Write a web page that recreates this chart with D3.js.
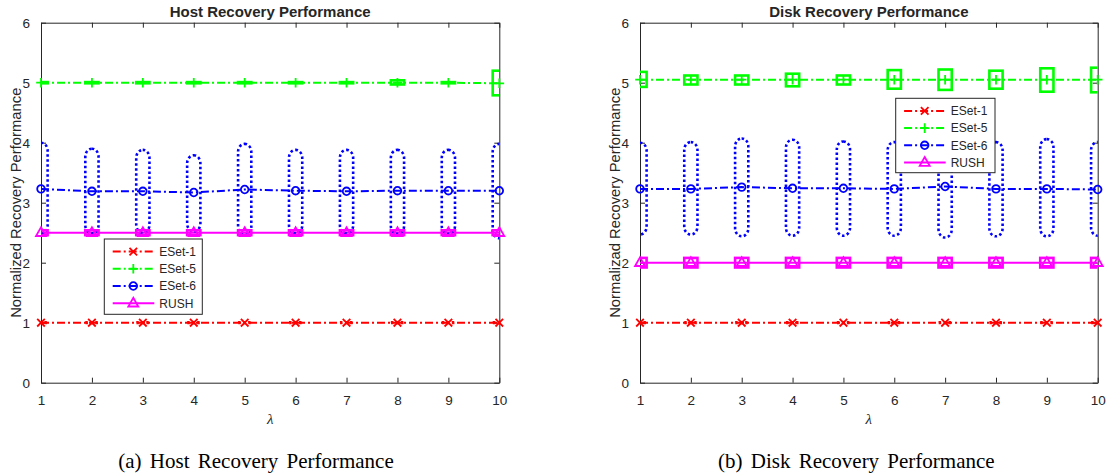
<!DOCTYPE html>
<html>
<head>
<meta charset="utf-8">
<script src="https://cdn.jsdelivr.net/npm/d3@7"></script>
<style>
body { margin: 0; background: #fff; }
svg text { font-family: "Liberation Sans", Arial, sans-serif; fill: #262626; }
</style>
</head>
<body>
<svg id="chart" width="1109" height="474"></svg>
<script>
var lambdas = [1, 2, 3, 4, 5, 6, 7, 8, 9, 10];
var yTicks = [0, 1, 2, 3, 4, 5, 6];
var seriesNames = ["ESet-1", "ESet-5", "ESet-6", "RUSH"];

// (a) host recovery
var hostESet1   = [1, 1, 1, 1, 1, 1, 1, 1, 1, 1];
var hostESet1Lo = [0.99, 0.99, 0.99, 0.99, 0.99, 0.99, 0.99, 0.99, 0.99, 0.99];
var hostESet1Hi = [1.01, 1.01, 1.01, 1.01, 1.01, 1.01, 1.01, 1.01, 1.01, 1.01];
var hostESet5   = [5, 5, 5, 5, 5, 5, 5, 5, 5, 4.99];
var hostESet5Lo = [4.99, 4.99, 4.99, 4.99, 4.99, 4.99, 4.99, 4.97, 4.99, 4.79];
var hostESet5Hi = [5.01, 5.01, 5.01, 5.01, 5.01, 5.01, 5.01, 5.04, 5.01, 5.2];
var hostESet6   = [3.23, 3.19, 3.19, 3.17, 3.22, 3.2, 3.19, 3.2, 3.2, 3.2];
var hostESet6Lo = [2.48, 2.49, 2.5, 2.52, 2.46, 2.49, 2.49, 2.48, 2.48, 2.41];
var hostESet6Hi = [4.0, 3.9, 3.88, 3.79, 3.98, 3.88, 3.88, 3.88, 3.88, 3.98];
var hostRush    = [2.5, 2.5, 2.5, 2.5, 2.5, 2.5, 2.5, 2.5, 2.5, 2.5];
var hostRushLo  = [2.46, 2.46, 2.46, 2.46, 2.46, 2.46, 2.46, 2.46, 2.46, 2.46];
var hostRushHi  = [2.54, 2.54, 2.54, 2.54, 2.54, 2.54, 2.54, 2.54, 2.54, 2.54];

// (b) disk recovery
var diskESet1   = [1, 1, 1, 1, 1, 1, 1, 1, 1, 1];
var diskESet1Lo = [0.99, 0.99, 0.99, 0.99, 0.99, 0.99, 0.99, 0.99, 0.99, 0.99];
var diskESet1Hi = [1.01, 1.01, 1.01, 1.01, 1.01, 1.01, 1.01, 1.01, 1.01, 1.01];
var diskESet5   = [5.05, 5.05, 5.05, 5.05, 5.05, 5.05, 5.05, 5.05, 5.05, 5.05];
var diskESet5Lo = [4.93, 4.97, 4.97, 4.94, 4.97, 4.9, 4.88, 4.9, 4.85, 4.84];
var diskESet5Hi = [5.18, 5.12, 5.12, 5.15, 5.12, 5.21, 5.22, 5.2, 5.24, 5.25];
var diskESet6   = [3.23, 3.23, 3.26, 3.24, 3.24, 3.23, 3.27, 3.23, 3.23, 3.22];
var diskESet6Lo = [2.47, 2.47, 2.44, 2.45, 2.45, 2.45, 2.42, 2.44, 2.44, 2.45];
var diskESet6Hi = [4.0, 4.01, 4.07, 4.05, 4.02, 4.01, 4.06, 4.01, 4.06, 4.01];
var diskRush    = [2, 2, 2, 2, 2, 2, 2, 2, 2, 2];
var diskRushLo  = [1.92, 1.92, 1.92, 1.92, 1.92, 1.92, 1.92, 1.92, 1.92, 1.92];
var diskRushHi  = [2.08, 2.08, 2.08, 2.08, 2.08, 2.08, 2.08, 2.08, 2.08, 2.08];

var styles = {
  "ESet-1": {color: "#ff0000", dash: "8,3,2,3", marker: "x", boxDash: "2.5,2.5", round: false, boxWidth: 2},
  "ESet-5": {color: "#00ff00", dash: "8,3,2,3", marker: "+", boxDash: null, round: false, boxWidth: 2.6},
  "ESet-6": {color: "#0000ff", dash: "8,3,2,3", marker: "o", boxDash: "2.5,2.5", round: true, boxWidth: 2.6},
  "RUSH":   {color: "#ff00ff", dash: null, marker: "^", boxDash: null, round: false, boxWidth: 2.6}
};

var serif = "'Liberation Serif', 'Times New Roman', serif";

function marker_path(m){
  if (m == "x") return "M-3.8,-3.8L3.8,3.8M-3.8,3.8L3.8,-3.8";
  if (m == "+") return "M-4.8,0L4.8,0M0,-4.8L0,4.8";
  if (m == "o") return "M3.8,0A3.8,3.8 0 1,1 -3.8,0A3.8,3.8 0 1,1 3.8,0Z";
  return "M0,-5.5L5,3.3L-5,3.3Z";
}

var svg = d3.select("#chart");
svg.append("rect").attr("width", 1109).attr("height", 474).attr("fill", "#fff");

function create_panel(opts){
  var x = d3.scaleLinear().domain([1, 10]).range([opts.left, opts.right]);
  var y = d3.scaleLinear().domain([0, 6]).range([382.7, 22.7]);
  var g = svg.append("g");

  var clipId = "clip-" + opts.id;
  svg.append("clipPath").attr("id", clipId)
    .append("rect")
    .attr("x", opts.left).attr("y", 22.7)
    .attr("width", opts.right - opts.left).attr("height", 360);

  // axes, ticks inside on all four sides
  g.append("g")
    .attr("transform", "translate(0,382.7)")
    .call(d3.axisBottom(x).tickValues(lambdas).tickFormat(d3.format("d")).tickSizeInner(-5).tickSizeOuter(0).tickPadding(13));
  g.append("g")
    .attr("transform", "translate(0,22.7)")
    .call(d3.axisTop(x).tickValues(lambdas).tickSizeInner(-5).tickSizeOuter(0).tickFormat(""));
  g.append("g")
    .attr("transform", "translate(" + opts.left + ",0)")
    .call(d3.axisLeft(y).tickValues(yTicks).tickFormat(d3.format("d")).tickSizeInner(-5).tickSizeOuter(0).tickPadding(11));
  g.append("g")
    .attr("transform", "translate(" + opts.right + ",0)")
    .call(d3.axisRight(y).tickValues(yTicks).tickSizeInner(-5).tickSizeOuter(0).tickFormat(""));
  g.selectAll(".domain, .tick line").attr("stroke", "#262626").attr("stroke-width", 1);
  g.selectAll(".tick text").attr("fill", "#262626").style("font-size", "13.5px");

  g.append("text")
    .attr("x", (opts.left + opts.right) / 2)
    .attr("y", 17)
    .attr("text-anchor", "middle")
    .attr("font-weight", "bold")
    .style("font-size", "15px")
    .text(opts.title);

  g.append("text")
    .attr("transform", "translate(" + (opts.left - 20) + ",202.7)rotate(-90)")
    .attr("text-anchor", "middle")
    .style("font-size", "14.8px")
    .text(opts.ylabel);

  g.append("text")
    .attr("x", (opts.left + opts.right) / 2)
    .attr("y", 424)
    .attr("text-anchor", "middle")
    .style("font-family", serif)
    .style("font-style", "italic")
    .style("font-size", "15px")
    .text("\u03bb");

  g.append("text")
    .attr("x", opts.captionX)
    .attr("y", 468)
    .style("font-family", serif)
    .style("font-size", "21px")
    .style("word-spacing", "3px")
    .style("fill", "#000")
    .text(opts.caption);

  var line = d3.line()
    .x(function(d, i){ return x(lambdas[i]); })
    .y(function(d){ return y(d); });

  var plot = g.append("g").attr("clip-path", "url(#" + clipId + ")");

  opts.series.forEach(function(s){
    var st = styles[s.name];
    plot.append("path")
      .datum(s.values)
      .attr("d", line)
      .attr("fill", "none")
      .attr("stroke", st.color)
      .attr("stroke-width", 2)
      .attr("stroke-dasharray", st.dash);
  });

  // error boxes
  opts.series.forEach(function(s){
    var st = styles[s.name];
    plot.selectAll(null)
      .data(s.values).enter()
      .append("rect")
      .attr("x", function(d, i){ return x(lambdas[i] - 0.13); })
      .attr("width", function(d, i){ return x(lambdas[i] + 0.13) - x(lambdas[i] - 0.13); })
      .attr("y", function(d, i){ return y(s.hi[i]); })
      .attr("height", function(d, i){ return y(s.lo[i]) - y(s.hi[i]); })
      .attr("rx", st.round ? 6.5 : 0)
      .attr("ry", st.round ? 8 : 0)
      .attr("fill", "none")
      .attr("stroke", st.color)
      .attr("stroke-width", st.boxWidth)
      .attr("stroke-dasharray", st.boxDash);
  });

  opts.series.forEach(function(s){
    var st = styles[s.name];
    g.selectAll(null)
      .data(s.values).enter()
      .append("path")
      .attr("transform", function(d, i){ return "translate(" + x(lambdas[i]) + "," + y(d) + ")"; })
      .attr("d", marker_path(st.marker))
      .attr("fill", "none")
      .attr("stroke", st.color)
      .attr("stroke-width", 1.8);
  });

  // legend
  var lg = g.append("g").attr("transform", "translate(" + opts.legend[0] + "," + opts.legend[1] + ")");
  lg.append("rect")
    .attr("width", opts.legend[2]).attr("height", opts.legend[3])
    .attr("fill", "#fff").attr("stroke", "#262626").attr("stroke-width", 1);
  seriesNames.forEach(function(name, i){
    var st = styles[name];
    var ey = 12.6 + i * 17.2;
    lg.append("line")
      .attr("x1", 8.4).attr("x2", 50).attr("y1", ey).attr("y2", ey)
      .attr("stroke", st.color).attr("stroke-width", 2)
      .attr("stroke-dasharray", st.dash);
    lg.append("path")
      .attr("transform", "translate(29," + ey + ")")
      .attr("d", marker_path(st.marker))
      .attr("fill", "none").attr("stroke", st.color).attr("stroke-width", 1.8);
    lg.append("text")
      .attr("x", 55).attr("y", ey).attr("dy", "0.36em")
      .style("font-size", "12px")
      .text(name);
  });
}

create_panel({
  id: "a", left: 41, right: 499.3,
  title: "Host Recovery Performance",
  ylabel: "Normalized Recovery Performance",
  caption: "(a)  Host Recovery Performance", captionX: 118.3,
  legend: [104.3, 239, 98, 75.3],
  series: [
    {name: "ESet-1", values: hostESet1, lo: hostESet1Lo, hi: hostESet1Hi},
    {name: "ESet-5", values: hostESet5, lo: hostESet5Lo, hi: hostESet5Hi},
    {name: "ESet-6", values: hostESet6, lo: hostESet6Lo, hi: hostESet6Hi},
    {name: "RUSH", values: hostRush, lo: hostRushLo, hi: hostRushHi}
  ]
});

create_panel({
  id: "b", left: 640, right: 1097.7,
  title: "Disk Recovery Performance",
  ylabel: "Normalizad Recovery Performance",
  caption: "(b)  Disk Recovery Performance", captionX: 718,
  legend: [895.7, 98.3, 99.3, 74.4],
  series: [
    {name: "ESet-1", values: diskESet1, lo: diskESet1Lo, hi: diskESet1Hi},
    {name: "ESet-5", values: diskESet5, lo: diskESet5Lo, hi: diskESet5Hi},
    {name: "ESet-6", values: diskESet6, lo: diskESet6Lo, hi: diskESet6Hi},
    {name: "RUSH", values: diskRush, lo: diskRushLo, hi: diskRushHi}
  ]
});
</script>
</body>
</html>
